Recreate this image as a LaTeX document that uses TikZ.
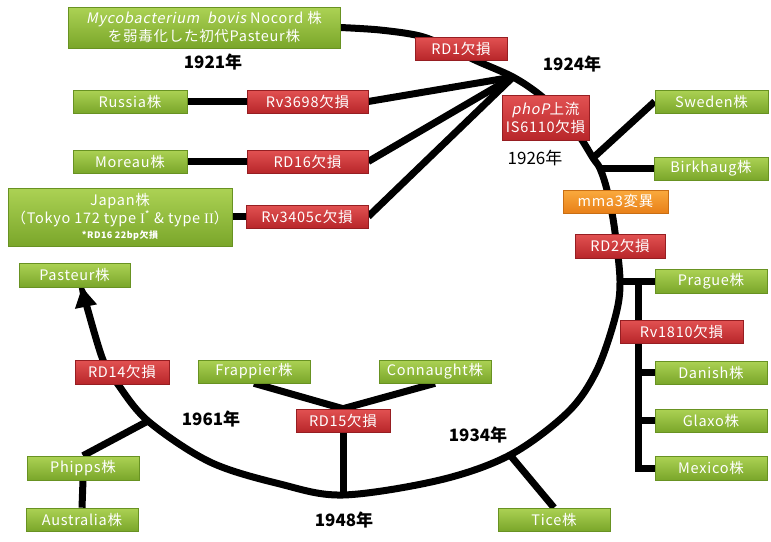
\documentclass[tikz,border=0pt]{standalone}
\usepackage{fontspec}
\setmainfont{Noto Sans CJK JP}
\newfontfamily\boxfont{Noto Sans CJK JP}[LetterSpace=5]
\newfontfamily\slantfont{Noto Sans CJK JP}[FakeSlant=0.2, LetterSpace=5]
\newfontfamily\romfont{Liberation Serif}
\usetikzlibrary{arrows.meta,shadows}
\pgfdeclarelayer{background}
\pgfsetlayers{background,main}
\definecolor{gtop}{RGB}{172,210,84}
\definecolor{gbot}{RGB}{122,166,42}
\definecolor{gline}{RGB}{104,146,34}
\definecolor{rtop}{RGB}{226,82,82}
\definecolor{rbot}{RGB}{184,38,42}
\definecolor{rline}{RGB}{150,30,34}
\definecolor{otop}{RGB}{250,170,62}
\definecolor{obot}{RGB}{232,128,24}
\definecolor{oline}{RGB}{200,110,20}
\tikzset{
  box/.style={rectangle, inner sep=0pt, text=white, align=center,
    font=\boxfont\fontsize{14.5}{18}\selectfont, line width=0.6pt,
    drop shadow={shadow xshift=1.2pt, shadow yshift=-1.2pt, opacity=0.3}},
  gbox/.style={box, draw=gline, top color=gtop, bottom color=gbot},
  rbox/.style={box, draw=rline, top color=rtop, bottom color=rbot},
  obox/.style={box, draw=oline, top color=otop, bottom color=obot},
  yearlbl/.style={font=\fontsize{17}{19}\selectfont\bfseries, text=black, inner sep=0pt},
  yearthin/.style={font=\fontsize{17}{19}\selectfont, text=black, inner sep=0pt},
  link/.style={line width=7pt, black},
}
\begin{document}
\begin{tikzpicture}[x=1pt, y=-1pt]
\useasboundingbox (0,0) rectangle (771,541);
% boxes
\node[gbox, minimum width=272pt, minimum height=41pt] (myco) at (204,27.5)
  {{\slantfont Mycobacterium\ \ bovis} Nocord 株\\を弱毒化した初代Pasteur株};
\node[rbox, minimum width=92pt, minimum height=23pt] (rd1) at (461,48.5) {RD1欠損};
\node[gbox, minimum width=114pt, minimum height=23pt] (russia) at (130,101.5) {Russia株};
\node[rbox, minimum width=121pt, minimum height=23pt] (rv3698) at (307.5,101.5) {Rv3698欠損};
\node[gbox, minimum width=114pt, minimum height=23pt] (moreau) at (130,161.5) {Moreau株};
\node[rbox, minimum width=121pt, minimum height=23pt] (rd16) at (307.5,161.5) {RD16欠損};
\node[gbox, minimum width=224pt, minimum height=58pt] (japan) at (120,217)
  {Japan株\\（Tokyo 172 type {\romfont I}\textsuperscript{*} \& type {\romfont II}）\\[-3pt]{\fontsize{9}{10}\selectfont\bfseries *RD16 22bp欠損}};
\node[rbox, minimum width=122pt, minimum height=23pt] (rv3405) at (307,216.5) {Rv3405c欠損};
\node[gbox, minimum width=111pt, minimum height=24pt] (pasteur) at (74.5,275) {Pasteur株};
\node[rbox, minimum width=87pt, minimum height=45pt] (phop) at (545.5,117.5)
  {{\slantfont phoP}上流\\IS6110欠損};
\node[gbox, minimum width=113pt, minimum height=23pt] (sweden) at (711.5,101.5) {Sweden株};
\node[gbox, minimum width=114pt, minimum height=23pt] (birkhaug) at (711,168.5) {Birkhaug株};
\node[obox, minimum width=105pt, minimum height=23pt] (mma3) at (615.5,201.5) {mma3変異};
\node[rbox, minimum width=90pt, minimum height=24pt] (rd2) at (620,246) {RD2欠損};
\node[gbox, minimum width=112pt, minimum height=24pt] (prague) at (711,281) {Prague株};
\node[rbox, minimum width=123pt, minimum height=23pt] (rv1810) at (681.5,331.5) {Rv1810欠損};
\node[gbox, minimum width=112pt, minimum height=23pt] (danish) at (711,372.5) {Danish株};
\node[gbox, minimum width=112pt, minimum height=23pt] (glaxo) at (711,420.5) {Glaxo株};
\node[gbox, minimum width=112pt, minimum height=24pt] (mexico) at (711,468) {Mexico株};
\node[gbox, minimum width=112pt, minimum height=23pt] (tice) at (554,519.5) {Tice株};
\node[rbox, minimum width=94pt, minimum height=23pt] (rd15) at (343,420.5) {RD15欠損};
\node[gbox, minimum width=112pt, minimum height=23pt] (frappier) at (254,371.5) {Frappier株};
\node[gbox, minimum width=112pt, minimum height=23pt] (connaught) at (435,371.5) {Connaught株};
\node[rbox, minimum width=94pt, minimum height=24pt] (rd14) at (122,372) {RD14欠損};
\node[gbox, minimum width=112pt, minimum height=24pt] (phipps) at (83,468) {Phipps株};
\node[gbox, minimum width=112pt, minimum height=23pt] (australia) at (82,519.5) {Australia株};
% years
\node[yearlbl] (y1921) at (213,62) {1921年};
\node[yearlbl] (y1924) at (572,64) {1924年};
\node[yearthin] (y1926) at (535,158) {1926年};
\node[yearlbl] (y1961) at (211,419) {1961年};
\node[yearlbl] (y1948) at (344,520) {1948年};
\node[yearlbl] (y1934) at (478,435) {1934年};
% junctions
\coordinate (conv) at (513,77);
\coordinate (jsw) at (593,158);
\coordinate (jbk) at (600,168.5);
\coordinate (jpr) at (620,281);
\coordinate (jtice) at (510,455);
\coordinate (jrd15) at (343,495);
\coordinate (jph) at (148,421);
\coordinate (tip) at (82,287);
\coordinate (vtop) at (638,281);
\begin{pgfonlayer}{background}
\draw[link, -{Triangle[length=20pt, width=21pt]}] plot[smooth, tension=0.55] coordinates {
  (myco.east) (380,30) (420,36) (450,48) (477,61) (conv) (540,95) (565,118)
  (580,137) (jsw) (jbk) (607,190) (614,225) (jpr)
  (615,318) (596,372) (567,413) (jtice) (440,480) (jrd15) (280,484)
  (210,462) (jph) (117,383) (103,360) (87,307) (tip)};
\draw[link] (russia.east) -- (rv3698.west);
\draw[link] (moreau.east) -- (rd16.west);
\draw[link] (japan.east |- rv3405.west) -- (rv3405.west);
\draw[link] (rv3698.east) -- (conv);
\draw[link] (rd16.east) -- (conv);
\draw[link] (rv3405.east) -- (conv);
\draw[link] (jsw) -- (sweden.west);
\draw[link] (jbk) -- (birkhaug.west);
\draw[link] (jpr) -- (prague.west);
\draw[link] (vtop) -- (vtop |- rv1810.north);
\draw[link] (vtop |- rv1810.south) -- (vtop |- mexico.west) -- (mexico.west);
\draw[link] (vtop |- danish.west) -- (danish.west);
\draw[link] (vtop |- glaxo.west) -- (glaxo.west);
\draw[link] (jtice) -- (tice.north);
\draw[link] (rd15.south) -- (jrd15);
\draw[link] (frappier.south) -- (rd15.north);
\draw[link] (connaught.south) -- (rd15.north);
\draw[link] (jph) -- (phipps.north);
\draw[link] (phipps.south) -- (australia.north);
\end{pgfonlayer}
\end{tikzpicture}
\end{document}
